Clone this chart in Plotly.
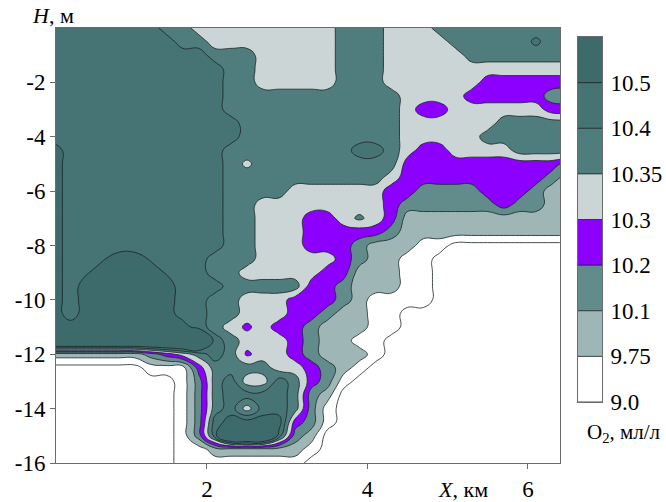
import numpy as np
import plotly.graph_objects as go

# ---- grid nodes (km, m) ----
x_km = [0.1, 0.3, 0.5, 0.7, 0.9, 1.1, 1.3, 1.5, 1.7, 1.9, 2.1, 2.3, 2.5, 2.7, 2.9, 3.1,
        3.3, 3.5, 3.7, 3.9, 4.1, 4.3, 4.5, 4.7, 4.9, 5.1, 5.3, 5.5, 5.7, 5.9, 6.1, 6.3, 6.5]
h_m = [0.0, -0.5, -1.0, -1.5, -2.0, -2.5, -3.0, -3.5, -4.0, -4.5, -5.0, -5.5, -6.0, -6.5,
       -7.0, -7.5, -8.0, -8.5, -9.0, -9.5, -10.0, -10.5, -11.0, -11.5, -12.0, -12.5, -13.0,
       -13.5, -14.0, -14.5, -15.0, -15.5, -16.0]

# O2 values (ml/l), coded per grid node
o2_code = {'.': 8.70, 'w': 9.375, 'l': 9.925, 'g': 10.15, 'p': 10.25, 'q': 10.28,
           'h': 10.325, 'k': 10.34, 'v': 10.36, 't': 10.375, 'u': 10.42,
           'T': 10.45, 'd': 10.49, 'D': 10.55, 'E': 10.90}

# run-length coded rows, top (H=0) to bottom (H=-16)
o2_rows = [
    "T7 t2 h9 t3 h3 t9",
    "T8 t2 h8 t3 h4 t5 u1 t2",
    "T10 t3 h5 t3 h5 t7",
    "T11 t2 h5 t3 h12",
    "T11 t2 h5 t3 h6 p6",
    "T11 t11 h4 p5 g2",
    "T11 t11 h1 p2 h6 p2",
    "T12 t10 h6 t5",
    "T12 t10 h5 t6",
    "D1 T10 t8 T2 t1 h1 p2 h4 t4",
    "D1 T10 t1 k1 t9 p10 g1",
    "D1 T10 t10 h1 p9 g1 l1",
    "D1 T10 t4 h6 p2 g4 p3 g1 l2",
    "D1 T10 t2 h8 p1 g6 p1 g2 l2",
    "D1 T10 t2 h3 p2 h1 v1 h1 p1 l11",
    "D1 T10 t2 h3 p5 g1 l11",
    "D1 T10 t2 h3 p3 g1 l3 w2 .8",
    "D1 T2 d1 D2 d1 T3 t3 h5 p1 g1 l2 w2 .9",
    "D1 T1 d1 D4 d1 T2 t2 h5 p2 l3 w2 .9",
    "D1 T1 D6 T3 t5 p2 g1 l3 w2 .9",
    "D1 T1 D6 T2 t2 h3 p3 g1 l1 w4 .9",
    "D1 T1 D6 T2 t2 h3 p2 g1 l2 w2 .11",
    "D9 T1 t1 h1 q1 h1 p2 g1 l3 w2 .11",
    "E10 T1 t1 h3 p1 g1 l2 w2 .12",
    "l6 g1 p1 h1 t1 T1 t1 q1 h2 p1 g1 l3 w1 .12",
    ".6 w3 p1 t4 h2 p1 g1 l1 w1 .13",
    ".8 w1 g1 t1 T1 h2 T1 t1 p1 g1 w1 .14",
    ".8 w1 g1 t1 T4 t1 g1 l1 .15",
    ".8 w1 g1 t1 T1 h1 T2 t1 g1 w1 .15",
    ".8 w1 g1 T1 D4 p1 g1 w1 .15",
    ".8 w1 g1 T1 E3 T1 g1 l1 .16",
    ".8 w2 l6 w1 .16",
    ".8 w8 .17",
]

o2_levels = [9.0, 9.75, 10.1, 10.2, 10.3, 10.35, 10.4, 10.5]
o2_ticktext = ['9.0', '9.75', '10.1', '10.2', '10.3', '10.35', '10.4', '10.5']
band_colors = ['#ffffff', '#ffffff', '#9fb6b6', '#628b8b', '#8b00ff',
               '#cbd5d5', '#4f7c7c', '#467373', '#3d6a6a']

x_ticks = [2, 4, 6]
y_ticks = [-16, -14, -12, -10, -8, -6, -4, -2]
FONT = 'Liberation Serif, Times New Roman, serif'


def decode(row):
    out = []
    for tok in row.split():
        out.extend([o2_code[tok[0]]] * int(tok[1:]))
    assert len(out) == len(x_km), (row, len(out))
    return out


o2 = np.array([decode(r) for r in o2_rows])
assert o2.shape == (len(h_m), len(x_km))

# map O2 onto equal-width colour bands (non-uniform scale as on the colour bar)
lev_ext = [8.25] + o2_levels + [11.0]
idx_ext = list(range(-1, len(o2_levels))) + [12]
z_idx = np.interp(o2, lev_ext, idx_ext)

nb = len(band_colors) - 1
cscale = []
for k, c in enumerate(band_colors):
    cscale.append([max(0.0, (k - 0.5) / nb), c])
    cscale.append([min(1.0, (k + 0.5) / nb), c])

contours = dict(start=0, end=len(o2_levels) - 1, size=1, coloring='fill', showlines=True)
line = dict(color='#1b2323', width=0.8, smoothing=1.3)

fig = go.Figure()
fig.add_trace(go.Contour(
    x=x_km, y=h_m[::-1], z=z_idx[::-1], contours=contours, line=line,
    colorscale=cscale, showscale=False, hoverinfo='skip', xaxis='x', yaxis='y'))

# colour bar drawn as a small contour on its own axes
cb_y = [0, len(o2_levels)]
fig.add_trace(go.Contour(
    x=[0, 1], y=cb_y, z=[[v, v] for v in cb_y], contours=contours,
    line=dict(color='#1b2323', width=0.8), colorscale=cscale, showscale=False,
    hoverinfo='skip', xaxis='x2', yaxis='y2'))

W, H = 666, 502
ml, mr, mt, mb = 56, 30, 28, 39
pw, ph = W - ml - mr, H - mt - mb

axis_common = dict(showgrid=False, zeroline=False, showline=True, linecolor='#6b6b6b',
                   linewidth=1, mirror=True, automargin=False)
fig.update_layout(
    width=W, height=H, margin=dict(l=ml, r=mr, t=mt, b=mb, autoexpand=False),
    paper_bgcolor='white', plot_bgcolor='white', showlegend=False,
    font=dict(family=FONT, size=23, color='black'),
    xaxis=dict(domain=[0, 504 / pw], range=[0.12, 6.4], tickvals=x_ticks,
               ticks='outside', ticklen=5, tickcolor='#6b6b6b',
               tickfont=dict(family=FONT, size=23), **axis_common),
    yaxis=dict(domain=[0, 1], range=[-16, 0], tickvals=y_ticks,
               ticktext=['-' + str(abs(v)) for v in y_ticks],
               ticks='outside', ticklen=5, tickcolor='#6b6b6b',
               tickfont=dict(family=FONT, size=23), **axis_common),
    xaxis2=dict(domain=[(578 - ml) / pw, (602 - ml) / pw], range=[0, 1], anchor='y2',
                showticklabels=False, ticks='', **axis_common),
    yaxis2=dict(domain=[(mt + ph - 402) / ph, (mt + ph - 37) / ph],
                range=[0, len(o2_levels)], anchor='x2', side='right',
                tickvals=list(range(len(o2_levels))), ticktext=o2_ticktext,
                ticks='', ticklabelstandoff=3,
                tickfont=dict(family=FONT, size=23), **axis_common),
    annotations=[
        dict(text='<i>H</i>, м', xref='paper', yref='paper',
             x=(53 - ml) / pw, y=(mt + ph - 15) / ph, xanchor='center', yanchor='middle',
             showarrow=False, font=dict(family=FONT, size=22)),
        dict(text='<i>X</i>, км', xref='paper', yref='paper',
             x=(463 - ml) / pw, y=(mt + ph - 489) / ph, xanchor='center', yanchor='middle',
             showarrow=False, font=dict(family=FONT, size=22)),
        dict(text='O<sub>2</sub>, мл/л', xref='paper', yref='paper',
             x=(623 - ml) / pw, y=(mt + ph - 433) / ph, xanchor='center', yanchor='middle',
             showarrow=False, font=dict(family=FONT, size=21)),
    ],
)

fig.write_html('out.html')
